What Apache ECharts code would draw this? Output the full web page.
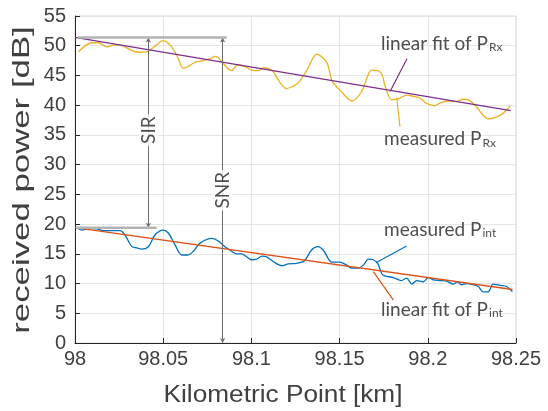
<!DOCTYPE html>
<html><head><meta charset="utf-8">
<script src="https://cdn.jsdelivr.net/npm/echarts@6/dist/echarts.min.js"></script>
<style>html,body{margin:0;padding:0;background:#fff}#c{width:548px;height:411px}</style>
</head><body><div id="c"></div>
<script>
// measured received power P_Rx
const rxKm = [98.002,98.0095,98.0133,98.018,98.0218,98.0255,98.0283,98.033,98.037,98.041,98.046,98.050,98.054,98.0577,98.0614,98.064,98.068,98.0727,98.0775,98.079,98.081,98.084,98.0888,98.092,98.0964,98.100,98.104,98.107,98.1096,98.1124,98.1153,98.120,98.1228,98.1257,98.1285,98.132,98.137,98.1427,98.1459,98.151,98.157,98.1625,98.1654,98.168,98.1716,98.174,98.1757,98.1795,98.1824,98.185,98.188,98.1918,98.1956,98.1994,98.204,98.207,98.2116,98.2164,98.220,98.223,98.2268,98.2306,98.234,98.238,98.242,98.2447,98.2466];
const rxDb = [49.0,50.5,50.5,49.8,50.1,50.1,49.8,49.1,48.9,49.0,50.1,50.85,50.1,48.4,46.2,46.5,47.2,47.5,47.9,48.2,48.0,47.0,45.8,46.8,46.5,45.9,45.8,46.3,46.2,45.6,44.2,42.8,43.1,43.5,44.5,46.2,48.6,47.2,44.0,42.3,40.7,42.3,44.5,45.9,45.8,45.2,43.3,40.9,41.0,41.3,41.7,41.5,41.2,40.3,39.9,40.4,40.7,40.6,41.0,40.9,40.0,38.6,37.7,37.9,38.5,39.2,39.9];
// measured interference power P_int
const intKm = [98.001,98.0038,98.0085,98.0123,98.016,98.0198,98.0255,98.0283,98.032,98.035,98.0378,98.0416,98.0454,98.050,98.0529,98.0567,98.0605,98.064,98.067,98.0709,98.0775,98.081,98.085,98.088,98.0917,98.0945,98.100,98.103,98.1059,98.1087,98.1124,98.1172,98.1209,98.1257,98.130,98.134,98.1376,98.1408,98.1455,98.150,98.154,98.157,98.1606,98.1635,98.1663,98.1691,98.1716,98.174,98.1757,98.1805,98.185,98.188,98.191,98.1937,98.1975,98.2003,98.2031,98.207,98.2107,98.2145,98.2168,98.219,98.222,98.2258,98.2286,98.2315,98.2343,98.237,98.241,98.2447,98.248];
const intDb = [19.4,19.0,19.3,19.2,18.9,18.9,18.9,18.2,16.3,16.0,15.8,16.2,18.2,19.0,18.5,16.5,14.8,14.8,15.4,16.8,17.6,17.2,16.2,15.6,15.0,15.0,14.0,14.1,14.6,14.5,13.7,13.0,13.3,13.4,13.8,15.6,16.2,15.6,13.6,13.6,13.1,12.6,12.6,13.1,14.1,14.0,13.4,11.6,11.3,11.0,10.5,10.9,9.9,10.5,10.3,11.0,10.6,10.5,10.4,9.9,10.3,9.8,10.0,9.8,9.5,8.6,8.6,9.9,9.7,9.5,8.6];
// linear fits (end points)
const rxFitKm = [98.0, 98.247];
const rxFitDb = [51.4, 39.1];
const intFitKm = [98.0, 98.248];
const intFitDb = [19.4, 9.0];
// ticks
const xTicks = [98, 98.05, 98.1, 98.15, 98.2, 98.25];
const yTicks = [0,5,10,15,20,25,30,35,40,45,50,55];
// axis titles
const xTitle = 'Kilometric Point [km]';
const yTitle = 'received power [dB]';
// SIR / SNR annotation (data units)
const refTopKm = [98.0017, 98.086];
const refTopDb = 51.4;
const refLowKm = [98.0006, 98.0463];
const refLowDb = 19.4;
const sirKm = 98.0416, sirDb = [19.4, 51.4], sirTextDb = 35.8;
const snrKm = 98.0837, snrDb = [0, 51.4], snrTextDb = 25.7;
// callouts
const calloutRxFit = {text:[98.1735, 49.8], line:[98.1882,47.8,98.1786,42.3]};
const calloutRxMeas = {text:[98.1752, 33.7], line:[98.1824,41.2,98.1842,36.4]};
const calloutIntMeas = {text:[98.1752, 18.5], line:[98.188,16.3,98.1706,13.5]};
const calloutIntFit = {text:[98.1735, 5.0], line:[98.1691,12.0,98.1805,7.2]};

const zip = (a,b) => a.map((v,i)=>[v,b[i]]);
const C = {y:'#EDB120', p:'#7E2F8E', b:'#0072BD', r:'#D95319'};
const tickFont = 'Liberation Sans, Arial, sans-serif';
const annFont = 'Lato, sans-serif';

function lineSeries(data, color, width, z, smooth) {
  return {type:'line', data, showSymbol:false, symbol:'none', silent:true, z:z||2,
    smooth:smooth||false, lineStyle:{color, width}, animation:false};
}
function textSeries(pt, rich, fmt) {
  return {type:'scatter', data:[pt], symbolSize:0, silent:true, z:10, animation:false,
    label:{show:true, position:'right', distance:0, formatter:fmt, rich}};
}
const subRich = {
  a:{fontFamily:annFont, fontSize:19, color:'#222', padding:[0,0,7,0]},
  s:{fontFamily:annFont, fontSize:12, color:'#222', padding:[0,0,0,1]}
};

const chart = echarts.init(document.getElementById('c'), null, {renderer:'canvas'});
const option = {
  animation:false,
  backgroundColor:'#fff',
  grid:{left:75, right:32, top:16, bottom:68, show:true, borderColor:'#d9d9d9', borderWidth:1},
  graphic:[
    {type:'text', x:22, y:180, rotation:Math.PI/2, scaleX:1.45, silent:true,
      style:{text:yTitle, font:'24px "Liberation Sans", Arial, sans-serif', fill:'#404040', align:'center', verticalAlign:'middle'}},
    {type:'text', x:283, y:396, scaleX:1.14, silent:true,
      style:{text:xTitle, font:'23px "Liberation Sans", Arial, sans-serif', fill:'#404040', align:'center', verticalAlign:'middle'}}
  ],
  xAxis:{type:'value', min:98, max:98.25, interval:0.05,
    axisLine:{onZero:false, lineStyle:{color:'#262626', width:1}},
    axisTick:{inside:true, length:5, lineStyle:{color:'#262626'}},
    axisLabel:{fontFamily:tickFont, fontSize:20, color:'#404040', margin:6,
      formatter:v=>String(+v.toFixed(2))},
    splitLine:{show:true, lineStyle:{color:'#e6e6e6', width:1}}},
  yAxis:{type:'value', min:0, max:55, interval:5,
    axisLine:{show:true, lineStyle:{color:'#262626', width:1}},
    axisTick:{show:true, inside:true, length:5, lineStyle:{color:'#262626'}},
    axisLabel:{fontFamily:tickFont, fontSize:20, color:'#404040', margin:9},
    splitLine:{show:true, lineStyle:{color:'#e6e6e6', width:1}}},
  series:[
    lineSeries(zip(rxKm, rxDb), C.y, 1.3, 3, 0.3),
    lineSeries(zip(intKm, intDb), C.b, 1.3, 3, 0.3),
    lineSeries(zip(rxFitKm, rxFitDb), C.p, 1.3, 4),
    lineSeries(zip(intFitKm, intFitDb), C.r, 1.3, 4),
    lineSeries(refTopKm.map(k=>[k, refTopDb]), '#b3b3b3', 2.5, 5),
    lineSeries(refLowKm.map(k=>[k, refLowDb]), '#b3b3b3', 2.5, 5),
    {type:'line', data:[], silent:true, z:6, animation:false,
      markLine:{silent:true, symbol:['arrow','arrow'], symbolSize:[4,5], animation:false,
        lineStyle:{color:'#6e6e6e', width:1, type:'solid'}, label:{show:false},
        data:[
          [{coord:[sirKm, sirDb[0]]},{coord:[sirKm, sirDb[1]]}],
          [{coord:[snrKm, snrDb[0]]},{coord:[snrKm, snrDb[1]]}]
        ]}},
    {type:'scatter', data:[[sirKm, sirTextDb, 'SIR'],[snrKm, snrTextDb, 'SNR']], symbolSize:0, silent:true, z:10, animation:false,
      label:{show:true, position:'inside', rotate:90, formatter:p=>p.data[2], fontFamily:annFont, fontSize:19,
        color:'#222', backgroundColor:'#fff', padding:[0,2,0,2]}},
    lineSeries([calloutRxFit.line.slice(0,2), calloutRxFit.line.slice(2)], C.p, 1.2, 4),
    lineSeries([calloutRxMeas.line.slice(0,2), calloutRxMeas.line.slice(2)], C.y, 1.2, 4),
    lineSeries([calloutIntMeas.line.slice(0,2), calloutIntMeas.line.slice(2)], C.b, 1.2, 4),
    lineSeries([calloutIntFit.line.slice(0,2), calloutIntFit.line.slice(2)], C.r, 1.2, 4),
    textSeries(calloutRxFit.text, subRich, '{a|linear fit of P}{s|Rx}'),
    textSeries(calloutRxMeas.text, subRich, '{a|measured P}{s|Rx}'),
    textSeries(calloutIntMeas.text, subRich, '{a|measured P}{s|int}'),
    textSeries(calloutIntFit.text, subRich, '{a|linear fit of P}{s|int}')
  ]
};
chart.setOption(option);
</script></body></html>
